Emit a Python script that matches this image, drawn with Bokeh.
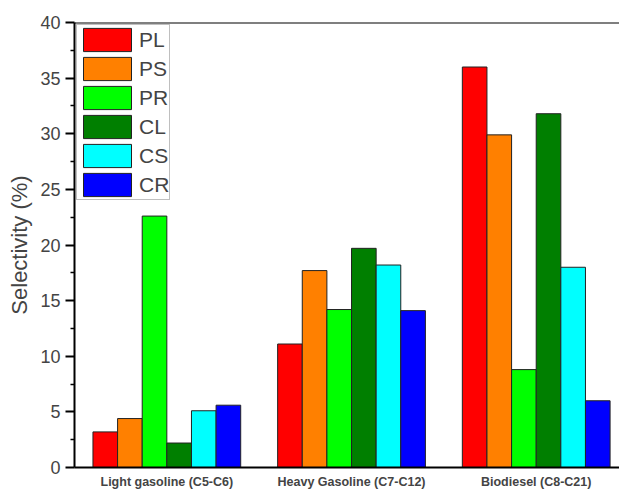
from bokeh.plotting import figure
from bokeh.models import (ColumnDataSource, Range1d, FixedTicker,
                          Span, Legend, LegendItem)
from bokeh.transform import dodge
from bokeh.embed import file_html
from bokeh.resources import INLINE

categories = ["Light gasoline (C5-C6)", "Heavy Gasoline (C7-C12)", "Biodiesel (C8-C21)"]
series_names = ["PL", "PS", "PR", "CL", "CS", "CR"]
PL = [3.2, 11.1, 36.0]
PS = [4.4, 17.7, 29.9]
PR = [22.6, 14.2, 8.8]
CL = [2.2, 19.7, 31.8]
CS = [5.1, 18.2, 18.0]
CR = [5.6, 14.1, 6.0]
colors = ["#FF0000", "#FF8000", "#00FF00", "#007F00", "#00FFFF", "#0000FF"]
y_ticks = [0, 5, 10, 15, 20, 25, 30, 35, 40]

xpos = [i + 0.5 for i in range(len(categories))]
data = dict(x=xpos, PL=PL, PS=PS, PR=PR, CL=CL, CS=CS, CR=CR)
src = ColumnDataSource(data)

FONT = "Liberation Sans"

p = figure(width=619, height=491, output_backend="svg", toolbar_location=None,
           x_range=Range1d(0, 2.951), y_range=Range1d(0, 40),
           min_border_left=74, min_border_right=0, min_border_top=22, min_border_bottom=22)
p.outline_line_color = None
p.xgrid.grid_line_color = None
p.ygrid.grid_line_color = None
p.background_fill_color = "white"
p.border_fill_color = "white"

bw = 0.8 / 6
items = []
for i, name in enumerate(series_names):
    r = p.vbar(x=dodge("x", (i - 2.5) * bw, range=p.x_range), top=name, width=bw,
               source=src, fill_color=colors[i], line_color="#222222", line_width=1)
    items.append(LegendItem(label=name, renderers=[r]))

legend = Legend(items=items, location="top_left", margin=2, padding=0, spacing=0,
                glyph_width=60, glyph_height=29, label_standoff=2,
                label_text_font=FONT, label_text_font_size="21px",
                border_line_color="#808080", border_line_width=1,
                background_fill_color="white", background_fill_alpha=1)
p.add_layout(legend)

p.add_layout(Span(location=40, dimension="width", line_color="black", line_width=2))

yax = p.yaxis[0]
yax.ticker = FixedTicker(ticks=y_ticks, minor_ticks=[v + 2.5 for v in y_ticks[:-1]])
yax.axis_label = "Selectivity (%)"
yax.axis_label_text_font = FONT
yax.axis_label_text_font_size = "22px"
yax.axis_label_text_font_style = "normal"
yax.axis_label_standoff = 5
yax.major_label_text_font = FONT
yax.major_label_text_font_size = "18px"
yax.major_label_standoff = 5
yax.major_tick_in = 0
yax.major_tick_out = 9
yax.minor_tick_in = 0
yax.minor_tick_out = 4
yax.axis_line_width = 2
yax.major_tick_line_width = 2
yax.minor_tick_line_width = 1.5
yax.axis_line_color = "black"

xax = p.xaxis[0]
xax.ticker = FixedTicker(ticks=xpos)
xax.major_label_overrides = {x: c for x, c in zip(xpos, categories)}
xax.major_label_text_font = FONT
xax.major_label_text_font_size = "12.5px"
xax.major_label_text_font_style = "bold"
xax.major_label_standoff = 7
xax.major_tick_in = 0
xax.major_tick_out = 0
xax.minor_tick_in = 0
xax.minor_tick_out = 0
xax.axis_line_width = 2
xax.axis_line_color = "black"

open("out.html", "w").write(file_html(p, INLINE))
